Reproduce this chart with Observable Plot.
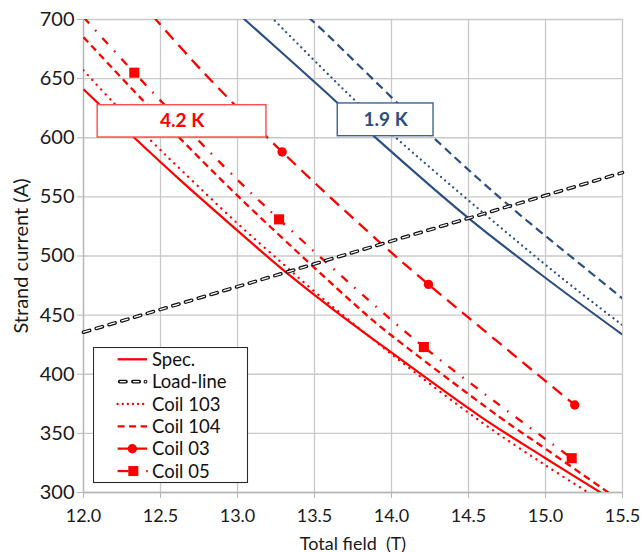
<!DOCTYPE html>
<html>
<head>
<meta charset="utf-8">
<script src="https://cdn.jsdelivr.net/npm/d3@7"></script>
<script src="https://cdn.jsdelivr.net/npm/@observablehq/plot@0.6"></script>
<style>
  html, body { margin: 0; padding: 0; background: #fff; }
  #wrap { position: relative; width: 642px; height: 552px; }
  #legend { position: absolute; left: 93px; top: 347px; }
</style>
</head>
<body>
<div id="wrap"></div>
<script>
// ---------- data ----------
const xTicks = [12.0, 12.5, 13.0, 13.5, 14.0, 14.5, 15.0, 15.5];
const yTicks = [300, 350, 400, 450, 500, 550, 600, 650, 700];

// 4.2 K curves: [total field (T), strand current (A)]
const spec42 = [[12.0,641],[12.33,600],[12.63,564],[13.0,521.5],[13.28,490],[13.61,456],[13.93,425],[14.58,364],[15.0,329],[15.37,299]];
const coil103_42 = [[12.0,657],[12.2,629],[12.45,596],[12.64,572],[13.0,527.5],[13.29,494],[13.5,470],[14.0,417],[14.59,359],[15.0,323],[15.29,299]];
const coil104_42 = [[12.0,685],[12.39,631],[12.63,599],[13.0,551],[13.5,490],[13.77,458],[13.93,440],[14.70,364],[15.0,337],[15.43,298]];
const coil03_line = [[12.45,703],[12.77,656.5],[13.29,588],[13.92,512],[14.24,476],[15.19,374]];
const coil03_pts = [[13.29,588],[14.24,476],[15.19,374]];
const coil05_line = [[12.0,702],[12.33,655],[12.91,576],[13.27,531],[13.91,456],[14.21,423],[14.68,376],[15.17,329]];
const coil05_pts = [[12.33,655],[13.27,531],[14.21,423],[15.17,329]];

// 1.9 K curves
const spec19 = [[13.03,702],[13.54,642.5],[13.88,602],[14.5,532],[15.02,479.5],[15.5,433.5]];
const coil103_19 = [[13.22,702],[13.54,660],[13.76,632],[14.02,601],[14.6,536],[15.11,481],[15.5,441.5]];
const coil104_19 = [[13.46,702],[13.54,692.5],[14.29,598],[14.76,543],[15.34,481],[15.5,464]];

// load line
const loadLine = [[12.0,435.5],[15.5,570.5]];

// annotation boxes
const boxLabels = ["4.2 K", "1.9 K"];
const boxX1 = [12.092, 13.651];
const boxX2 = [13.188, 14.273];
const boxY1 = [600.2, 601.3];
const boxY2 = [627.5, 629.0];

const legendNames = ["Spec.", "Load-line", "Coil 103", "Coil 104", "Coil 03", "Coil 05"];

// ---------- styles ----------
const RED = "#ff0000";
const BLUE = "#2b4f82";
const GRID = "#c9c9c9";
const FONT = "Lato, 'Open Sans', sans-serif";

const X = d => d[0], Y = d => d[1];
function curve(data, stroke, o = {}) {
  return Plot.line(data, {x: X, y: Y, stroke, strokeWidth: o.w ?? 2.2,
    strokeDasharray: o.dash, strokeLinecap: o.cap ?? "butt", curve: "catmull-rom", clip: true});
}

const boxes = boxLabels.map((t, i) => ({t, x1: boxX1[i], x2: boxX2[i], y1: boxY1[i], y2: boxY2[i],
  c: i === 0 ? RED : BLUE, b: i === 0 ? "#ff4a4a" : "#3d6194"}));

const chart = Plot.plot({
  width: 642, height: 552,
  marginLeft: 83, marginRight: 20, marginTop: 19, marginBottom: 60,
  x: {domain: [12, 15.5]},
  y: {domain: [300, 700]},
  style: {fontFamily: FONT, fontSize: "18px", color: "#1a1a1a", background: "#fff", overflow: "visible"},
  marks: [
    Plot.gridX(xTicks, {stroke: GRID, strokeOpacity: 1, strokeWidth: 1.3}),
    Plot.gridY(yTicks, {stroke: GRID, strokeOpacity: 1, strokeWidth: 1.3}),
    Plot.ruleX([12], {stroke: "#b5b5b5", strokeWidth: 1.3}),
    Plot.ruleY([300], {stroke: "#b5b5b5", strokeWidth: 1.3}),
    Plot.axisX({ticks: xTicks, tickFormat: d => d.toFixed(1), tickSize: 6, tickPadding: 11,
      stroke: "#b5b5b5", fill: "#1a1a1a", fontSize: 18,
      label: "Total field  (T)", labelAnchor: "center", labelArrow: "none", labelOffset: 57}),
    Plot.axisY({ticks: yTicks, tickSize: 6, tickPadding: 3,
      stroke: "#b5b5b5", fill: "#1a1a1a", fontSize: 20,
      label: "Strand current (A)", labelAnchor: "center", labelArrow: "none", labelOffset: 70}),

    // 1.9 K
    curve(spec19, BLUE, {w: 2.1}),
    curve(coil103_19, BLUE, {w: 2.2, dash: "0.1 5.2", cap: "round"}),
    curve(coil104_19, BLUE, {w: 2.2, dash: "8.5 5"}),

    // 4.2 K
    curve(spec42, RED, {w: 2.2}),
    curve(coil103_42, RED, {w: 2.3, dash: "0.1 6.4", cap: "round"}),
    curve(coil104_42, RED, {w: 2.3, dash: "7 4.5"}),
    curve(coil03_line, RED, {w: 2.3, dash: "12 7.5"}),
    curve(coil05_line, RED, {w: 2.3, dash: "8.5 9 1.6 9"}),

    // load line (hollow dashes)
    Plot.line(loadLine, {x: X, y: Y, stroke: "#111", strokeWidth: 3.6, strokeDasharray: "6.4 6.9", strokeLinecap: "round"}),
    Plot.line(loadLine, {x: X, y: Y, stroke: "#fff", strokeWidth: 1.3, strokeDasharray: "6.2 7.1", strokeDashoffset: -0.1}),

    // markers
    Plot.dot(coil03_pts, {x: X, y: Y, r: 4.7, fill: RED, stroke: "none"}),
    Plot.dot(coil05_pts, {x: X, y: Y, r: 5.7, symbol: "square", fill: RED, stroke: "none"}),

    // annotation boxes
    Plot.rect(boxes, {x1: "x1", x2: "x2", y1: "y1", y2: "y2", fill: "#fff", stroke: "b", strokeWidth: 1.4}),
    Plot.text(boxes, {x: d => (d.x1 + d.x2) / 2, y: d => (d.y1 + d.y2) / 2, text: "t", fill: "c",
      fontWeight: "bold", fontSize: 19})
  ]
});
document.getElementById("wrap").appendChild(chart);

// ---------- legend (overlay inside plot area) ----------
const W = 154, H = 135, rowH = 22.35, y0 = 12.3, sx1 = 24.6, sx2 = 54, tx = 59;
const leg = d3.select("#wrap").append("svg").attr("id", "legend")
  .attr("width", W + 2).attr("height", H + 2)
  .style("font-family", FONT).style("font-size", "18.5px");
leg.append("rect").attr("x", 0.5).attr("y", 0.5).attr("width", W).attr("height", H)
  .attr("fill", "#fff").attr("stroke", "#2a2a2a").attr("stroke-width", 1.1);
legendNames.forEach((name, i) => {
  const y = y0 + i * rowH;
  const g = leg.append("g");
  const ln = (x1, x2, attrs) => {
    const l = g.append("line").attr("x1", x1).attr("x2", x2).attr("y1", y).attr("y2", y);
    Object.entries(attrs).forEach(([k, v]) => l.attr(k, v));
    return l;
  };
  if (i === 0) ln(sx1, sx2, {stroke: RED, "stroke-width": 2.3});
  if (i === 1) {
    ln(sx1 + 2, sx2 - 6, {stroke: "#111", "stroke-width": 3.6, "stroke-dasharray": "6.4 6.9", "stroke-linecap": "round"});
    ln(sx1 + 2, sx2 - 6, {stroke: "#fff", "stroke-width": 1.3, "stroke-dasharray": "6.2 7.1", "stroke-dashoffset": -0.1});
    g.append("circle").attr("cx", sx2 - 1.5).attr("cy", y).attr("r", 1.4).attr("fill", "#fff").attr("stroke", "#111").attr("stroke-width", 1.1);
  }
  if (i === 2) ln(sx1, sx2, {stroke: RED, "stroke-width": 2.3, "stroke-dasharray": "0.1 5", "stroke-linecap": "round"});
  if (i === 3) ln(sx1, sx2, {stroke: RED, "stroke-width": 2.3, "stroke-dasharray": "7 4.5"});
  if (i === 4) {
    ln(sx1, sx2, {stroke: RED, "stroke-width": 2.3, "stroke-dasharray": "12 6"});
    g.append("circle").attr("cx", (sx1 + sx2) / 2).attr("cy", y).attr("r", 4.7).attr("fill", RED);
  }
  if (i === 5) {
    ln(sx1, sx1 + 11, {stroke: RED, "stroke-width": 2.3});
    g.append("rect").attr("x", 40.3 - 5).attr("y", y - 5).attr("width", 10).attr("height", 10).attr("fill", RED);
    ln(sx2 - 0.8, sx2 + 0.8, {stroke: RED, "stroke-width": 2.3});
  }
  g.append("text").attr("x", tx).attr("y", y).attr("dy", "0.36em").attr("fill", "#111").text(name);
});
</script>
</body>
</html>
